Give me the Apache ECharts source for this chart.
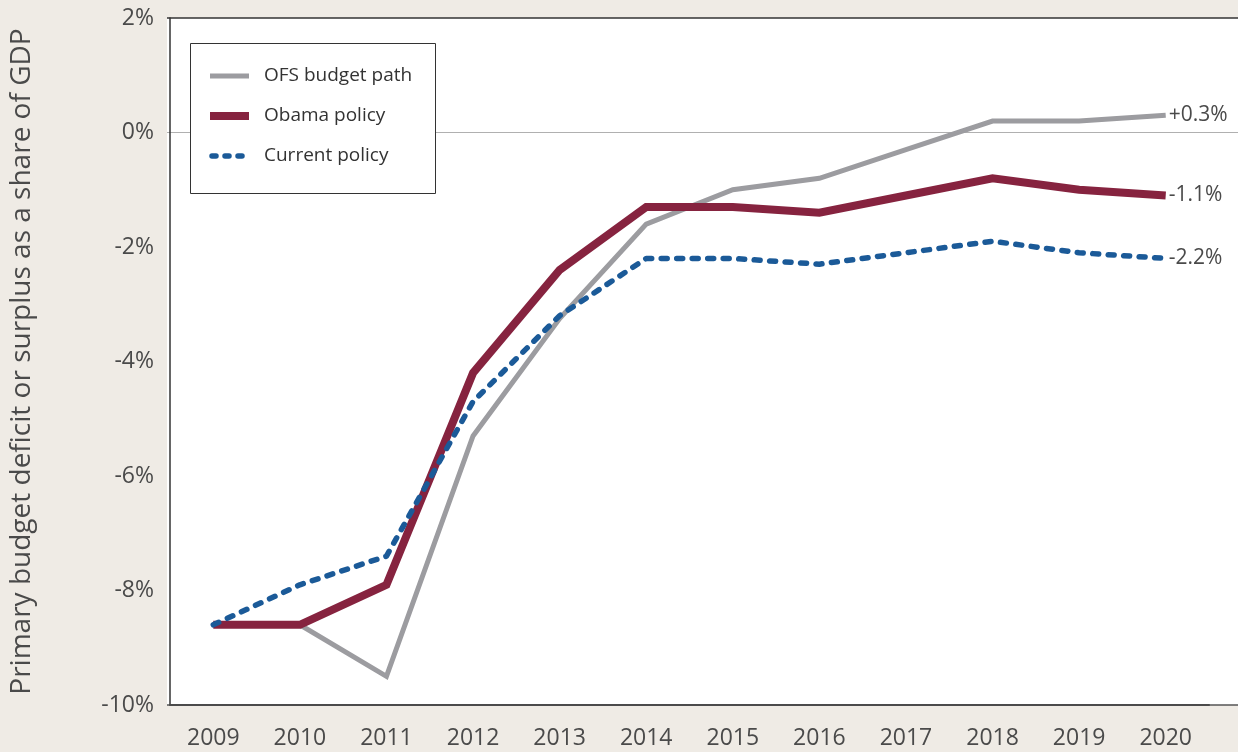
<!DOCTYPE html>
<html>
<head>
<meta charset="utf-8">
<script src="https://cdn.jsdelivr.net/npm/echarts@6/dist/echarts.min.js"></script>
<style>
html,body{margin:0;padding:0;background:#efebe5;}
#c{width:1238px;height:752px;}
</style>
</head>
<body>
<div id="c"></div>
<script>
const years = ['2009','2010','2011','2012','2013','2014','2015','2016','2017','2018','2019','2020'];
const ofsPath = [-8.6, -8.6, -9.5, -5.3, -3.25, -1.6, -1.0, -0.8, -0.3, 0.2, 0.2, 0.3];
const obamaPolicy = [-8.6, -8.6, -7.9, -4.2, -2.4, -1.3, -1.3, -1.4, -1.1, -0.8, -1.0, -1.1];
const currentPolicy = [-8.6, -7.9, -7.4, -4.7, -3.2, -2.2, -2.2, -2.3, -2.1, -1.9, -2.1, -2.2];
const endLabels = ['+0.3%', '-1.1%', '-2.2%'];
const yTitle = 'Primary budget deficit or surplus as a share of GDP';

const FONT = '"Open Sans", "Noto Sans", sans-serif';
const TXT = '#4a4a4a';
const chart = echarts.init(document.getElementById('c'), null, {renderer: 'canvas'});

function endLbl(text) {
  return {
    show: true,
    formatter: () => text,
    color: TXT,
    fontFamily: FONT,
    fontSize: 21,
    distance: 3
  };
}

const option = {
  backgroundColor: '#efebe5',
  animation: false,
  grid: {left: 167, top: 18, right: 29, bottom: 47, show: false},
  xAxis: {
    type: 'category',
    data: years,
    boundaryGap: true,
    axisLine: {show: true, onZero: false, lineStyle: {color: '#333', width: 2}},
    axisTick: {show: false},
    axisLabel: {color: TXT, fontSize: 23, fontFamily: FONT, margin: 22},
    splitLine: {show: false}
  },
  yAxis: {
    type: 'value',
    min: -10, max: 2, interval: 2,
    name: yTitle,
    nameLocation: 'middle',
    nameGap: 134,
    nameTextStyle: {color: TXT, fontSize: 28, fontFamily: FONT},
    axisLine: {show: true, lineStyle: {color: '#333', width: 1.5}},
    axisTick: {show: false},
    axisLabel: {color: TXT, fontSize: 23, fontFamily: FONT, margin: 16, formatter: v => v + '%'},
    splitLine: {show: false}
  },
  legend: {show: false},
  series: [
    {
      name: 'OFS budget path', type: 'line', data: ofsPath,
      symbol: 'none', z: 2,
      lineStyle: {color: '#9c9ca0', width: 5, cap: 'butt', join: 'miter'},
      endLabel: endLbl(endLabels[0])
    },
    {
      name: 'Obama policy', type: 'line', data: obamaPolicy,
      symbol: 'none', z: 3,
      lineStyle: {color: '#86233f', width: 8, cap: 'butt', join: 'miter'},
      endLabel: endLbl(endLabels[1])
    },
    {
      name: 'Current policy', type: 'line', data: currentPolicy,
      symbol: 'none', z: 4,
      lineStyle: {color: '#1b5a98', width: 5.5, type: [6, 9.5], cap: 'round', join: 'round'},
      endLabel: endLbl(endLabels[2])
    }
  ]
};
chart.setOption(option);

// Decorative panel, borders and legend box
const zeroY = chart.convertToPixel({yAxisIndex: 0}, 0);
const topY = chart.convertToPixel({yAxisIndex: 0}, 2);
const botY = chart.convertToPixel({yAxisIndex: 0}, -10);
const left = 167, right = 1238;
const legendItems = [
  {name: 'OFS budget path', color: '#9c9ca0', width: 5, dash: null},
  {name: 'Obama policy', color: '#86233f', width: 8, dash: null},
  {name: 'Current policy', color: '#1b5a98', width: 5.5, dash: [4, 9]}
];
const graphics = [
  {type: 'rect', z: -10, silent: true, shape: {x: left, y: topY, width: right - left, height: botY - topY}, style: {fill: '#ffffff'}},
  {type: 'line', z: -5, silent: true, shape: {x1: left, y1: zeroY, x2: right, y2: zeroY}, style: {stroke: '#b0b0b0', lineWidth: 1.2}},
  {type: 'line', z: 10, silent: true, shape: {x1: left, y1: topY, x2: right, y2: topY}, style: {stroke: '#333', lineWidth: 1.5}},
  {type: 'line', z: 10, silent: true, shape: {x1: left, y1: botY, x2: right, y2: botY}, style: {stroke: '#555', lineWidth: 1.5}},
  {type: 'rect', z: 20, silent: true, shape: {x: 190.5, y: 43.5, width: 245, height: 150}, style: {fill: '#ffffff', stroke: '#333', lineWidth: 1}}
];
legendItems.forEach((it, i) => {
  const y = 76 + i * 40;
  graphics.push({type: 'line', z: 21, silent: true, shape: {x1: it.dash ? 212 : 210, y1: y, x2: it.dash ? 248 : 249, y2: y},
    style: {stroke: it.color, lineWidth: it.width, lineDash: it.dash, lineCap: it.dash ? 'round' : 'butt'}});
  graphics.push({type: 'text', z: 21, silent: true, x: 264, y: y,
    style: {text: it.name, fill: '#333', fontSize: 19, fontFamily: FONT, verticalAlign: 'middle', textVerticalAlign: 'middle'}});
});
chart.setOption({graphic: graphics});
</script>
</body>
</html>
